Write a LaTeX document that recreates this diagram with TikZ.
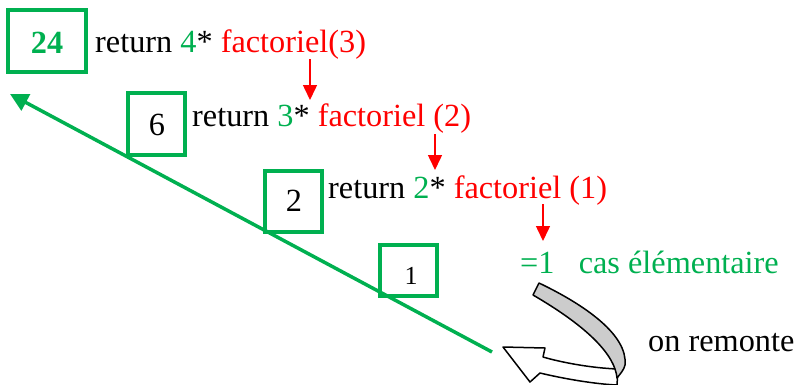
\documentclass[tikz,border=0pt]{standalone}
\usepackage{fontspec}
\setmainfont{Liberation Serif}
\usetikzlibrary{arrows.meta}
\definecolor{vert}{RGB}{0,176,80}
\definecolor{rouge}{RGB}{255,0,0}
\definecolor{gris}{RGB}{204,204,204}
\tikzset{
  valbox/.style={draw=vert,line width=3.5pt},
  txt/.style={anchor=base west,inner sep=0pt,font=\fontsize{32.3}{36}\selectfont},
  num/.style={anchor=base,inner sep=0pt,font=\fontsize{32.3}{36}\selectfont},
  redarrow/.style={draw=rouge,line width=1.5pt,-{Triangle[length=15pt,width=14pt]}},
  greenarrow/.style={draw=vert,line width=3.5pt,-{Triangle[length=18pt,width=18pt]}},
  ribbon/.style={draw=black,line width=1.5pt,line join=round}
}
\begin{document}
\begin{tikzpicture}[x=1pt,y=-1pt]
\useasboundingbox (0,0) rectangle (795,384);
% boxes
\draw[valbox] (8,10) rectangle (86,72);
\draw[valbox] (128,93) rectangle (185,155);
\draw[valbox] (265,171) rectangle (322,232);
\draw[valbox] (380,245) rectangle (437,296);
\node[num,text=vert,font=\fontsize{32.3}{36}\selectfont\bfseries] (n24) at (47,53) {24};
\node[num] (n6) at (157,135) {6};
\node[num] (n2) at (294,211) {2};
\node[num,font=\fontsize{26}{30}\selectfont] (n1) at (411,284) {1};
% texts
\node[txt] (t1) at (95,52) {return \textcolor{vert}{4}* \textcolor{rouge}{factoriel(3)}};
\node[txt] (t2) at (192,126) {return \textcolor{vert}{3}* \textcolor{rouge}{factoriel (2)}};
\node[txt] (t3) at (328,198) {return \textcolor{vert}{2}* \textcolor{rouge}{factoriel (1)}};
\node[txt,text=vert] (t4) at (520,273) {=1\hspace{0.75em}cas élémentaire};
\node[txt] (t5) at (648,351) {on remonte};
% red arrows
\coordinate (a1s) at (310,59); \coordinate (a1e) at (310,100);
\coordinate (a2s) at (435,134); \coordinate (a2e) at (435,170);
\coordinate (a3s) at (543,204); \coordinate (a3e) at (543,241);
\draw[redarrow] (a1s) -- (a1e);
\draw[redarrow] (a2s) -- (a2e);
\draw[redarrow] (a3s) -- (a3e);
% green line
\coordinate (gs) at (492,352); \coordinate (ge) at (10,94);
\draw[greenarrow] (gs) -- (ge);
% curved arrow: white head part
\draw[ribbon,fill=white] (618,369) .. controls (590,368) and (560,362) .. (543,357)
  -- (545,348) -- (503,347) -- (530,382) -- (540,373)
  .. controls (565,379) and (595,384) .. (617,385) -- cycle;
% gray ribbon
\draw[ribbon,fill=gris] (533,295) -- (539,283)
  .. controls (585,305) and (628,335) .. (625,365)
  .. controls (624,370) and (620,374) .. (617,378)
  .. controls (615,355) and (588,327) .. (533,295) -- cycle;
\end{tikzpicture}
\end{document}
